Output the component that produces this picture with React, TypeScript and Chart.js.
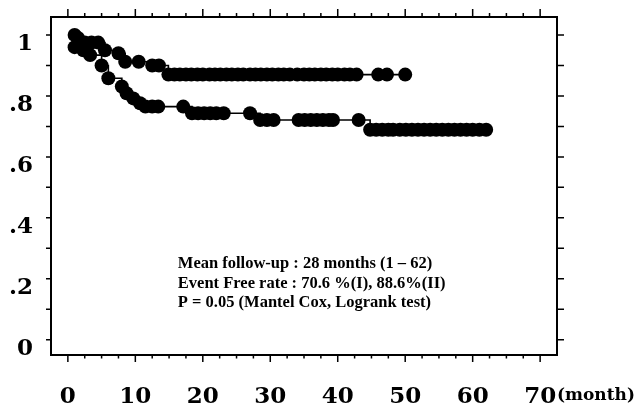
import React, { useEffect, useRef } from 'react';
import { Chart, registerables } from 'chart.js';

Chart.register(...registerables);

// Group I (lower curve) — months and event-free probability
const groupIMonths = [1, 2.3, 3.3, 5.0, 6.0, 8.0, 8.7, 9.7, 10.7, 11.5, 12.5, 13.4, 17.1, 18.4, 19.3, 20.2, 21.1, 22, 23.1, 27.0, 28.5, 29.5, 30.5, 34.2, 35.1, 36, 36.9, 37.8, 38.7, 39.3, 43.1, 44.8, 45.7, 46.6, 47.5, 48.2, 49.2, 50.1, 51, 51.9, 52.8, 53.7, 54.6, 55.5, 56.4, 57.3, 58.2, 59.1, 60, 61, 62];
const groupISurvival = [0.96, 0.95, 0.934, 0.9, 0.858, 0.831, 0.809, 0.792, 0.776, 0.765, 0.765, 0.765, 0.765, 0.743, 0.743, 0.743, 0.743, 0.743, 0.743, 0.743, 0.721, 0.721, 0.721, 0.721, 0.721, 0.721, 0.721, 0.721, 0.721, 0.721, 0.721, 0.689, 0.689, 0.689, 0.689, 0.689, 0.689, 0.689, 0.689, 0.689, 0.689, 0.689, 0.689, 0.689, 0.689, 0.689, 0.689, 0.689, 0.689, 0.689, 0.689];

// Group II (upper curve)
const groupIIMonths = [1, 1.5, 2.5, 3.5, 4.5, 5.5, 7.5, 8.5, 10.5, 12.5, 13.5, 14.9, 15.8, 16.6, 17.5, 18.3, 19.2, 20, 21, 21.8, 22.6, 23.5, 24.3, 25.2, 26, 27, 27.8, 28.6, 29.5, 30.3, 31.2, 32, 32.9, 34, 35, 35.8, 36.6, 37.5, 38.3, 39.2, 40, 41, 41.8, 42.8, 46, 47.3, 50];
const groupIISurvival = [1.0, 0.99, 0.975, 0.975, 0.975, 0.95, 0.94, 0.912, 0.912, 0.9, 0.9, 0.87, 0.87, 0.87, 0.87, 0.87, 0.87, 0.87, 0.87, 0.87, 0.87, 0.87, 0.87, 0.87, 0.87, 0.87, 0.87, 0.87, 0.87, 0.87, 0.87, 0.87, 0.87, 0.87, 0.87, 0.87, 0.87, 0.87, 0.87, 0.87, 0.87, 0.87, 0.87, 0.87, 0.87, 0.87, 0.87];

const xTickValues = [0, 10, 20, 30, 40, 50, 60, 70];
const xTickLabels = ['0', '10', '20', '30', '40', '50', '60', '70'];
const yTickValues = [0, 0.2, 0.4, 0.6, 0.8, 1];
const yTickLabels = ['0', '.2', '.4', '.6', '.8', '1'];
const xUnitLabel = '(month)';
const annotationLines = [
  'Mean follow-up : 28 months (1 \u2013 62)',
  'Event Free rate : 70.6 %(I), 88.6%(II)',
  'P = 0.05 (Mantel Cox, Logrank test)',
];

const X_MIN = -2.5;
const X_MAX = 72.5;
const Y_MIN = -0.05;
const Y_MAX = 1.059;

const framePlugin = {
  id: 'framePlugin',
  afterDraw(chart: any) {
    const ctx = chart.ctx;
    const { left, right, top, bottom } = chart.chartArea;
    const xs = chart.scales.x;
    const ys = chart.scales.y;
    ctx.save();
    ctx.strokeStyle = '#000';
    ctx.lineWidth = 2;
    ctx.strokeRect(left, top, right - left, bottom - top);
    ctx.lineWidth = 1.5;
    // x ticks (top and bottom), every 2.5 months
    for (let i = 0; i <= 28; i++) {
      const v = i * 2.5;
      const px = xs.getPixelForValue(v);
      const major = i % 4 === 0;
      ctx.beginPath();
      ctx.moveTo(px, bottom);
      ctx.lineTo(px, bottom + (major ? 7 : 3.5));
      ctx.moveTo(px, top);
      ctx.lineTo(px, top - (major ? 8 : 4));
      ctx.stroke();
    }
    // y ticks (left and right), every 0.1
    for (let i = 0; i <= 10; i++) {
      const py = ys.getPixelForValue(i / 10);
      ctx.beginPath();
      ctx.moveTo(left, py);
      ctx.lineTo(left - 5, py);
      ctx.moveTo(right, py);
      ctx.lineTo(right + 7, py);
      ctx.stroke();
    }
    // unit label
    ctx.fillStyle = '#000';
    ctx.font = 'bold 17px "DejaVu Serif"';
    ctx.textAlign = 'left';
    ctx.textBaseline = 'middle';
    ctx.fillText(xUnitLabel, right + 0, 396);
    // annotation text
    ctx.font = 'bold 16.5px "Liberation Serif"';
    const ax = xs.getPixelForValue(16.3);
    annotationLines.forEach((line, i) => {
      ctx.fillText(line, ax, 264 + i * 19.5);
    });
    ctx.restore();
  },
};

export default function App() {
  const canvasRef = useRef<HTMLCanvasElement | null>(null);

  useEffect(() => {
    if (!canvasRef.current) return;
    const makeData = (months: number[], surv: number[]) =>
      months.map((m, i) => ({ x: m, y: surv[i] }));
    const common = {
      borderColor: '#000',
      borderWidth: 1.6,
      backgroundColor: '#000',
      pointBackgroundColor: '#000',
      pointBorderWidth: 0,
      pointRadius: 7,
      stepped: true as const,
      fill: false,
    };
    const chart = new Chart(canvasRef.current, {
      type: 'line',
      data: {
        datasets: [
          { label: 'I', data: makeData(groupIMonths, groupISurvival), ...common },
          { label: 'II', data: makeData(groupIIMonths, groupIISurvival), ...common },
        ],
      },
      options: {
        animation: false,
        responsive: true,
        maintainAspectRatio: false,
        layout: { padding: { top: 17, right: 79, left: 0, bottom: 0 }, autoPadding: false },
        plugins: { legend: { display: false }, tooltip: { enabled: false } },
        scales: {
          x: {
            type: 'linear',
            position: 'bottom',
            min: X_MIN,
            max: X_MAX,
            grid: { display: false, drawTicks: false },
            border: { display: false },
            afterBuildTicks: (scale: any) => {
              scale.ticks = xTickValues.map((v) => ({ value: v }));
            },
            afterFit: (scale: any) => {
              scale.height = 55;
              scale.paddingLeft = 0;
              scale.paddingRight = 0;
            },
            ticks: {
              autoSkip: false,
              maxRotation: 0,
              padding: 28,
              color: '#000',
              font: { family: '"DejaVu Serif"', size: 23, weight: 'bold' },
              callback: (value: any) => {
                const idx = xTickValues.indexOf(Number(value));
                return idx >= 0 ? xTickLabels[idx] : '';
              },
            },
          },
          y: {
            type: 'linear',
            position: 'left',
            min: Y_MIN,
            max: Y_MAX,
            grid: { display: false, drawTicks: false },
            border: { display: false },
            afterBuildTicks: (scale: any) => {
              scale.ticks = yTickValues.map((v) => ({ value: v }));
            },
            afterFit: (scale: any) => {
              scale.width = 51;
              scale.paddingTop = 0;
              scale.paddingBottom = 0;
            },
            ticks: {
              autoSkip: false,
              padding: 18,
              labelOffset: 9,
              color: '#000',
              font: { family: '"DejaVu Serif"', size: 23, weight: 'bold' },
              callback: (value: any) => {
                const idx = yTickValues.findIndex((v) => Math.abs(v - Number(value)) < 1e-9);
                return idx >= 0 ? yTickLabels[idx] : '';
              },
            },
          },
        },
      },
      plugins: [framePlugin],
    });
    return () => chart.destroy();
  }, []);

  return (
    <div style={{ position: 'fixed', left: 0, top: 0, width: 636, height: 410, background: '#fff' }}>
      <canvas ref={canvasRef} />
    </div>
  );
}
